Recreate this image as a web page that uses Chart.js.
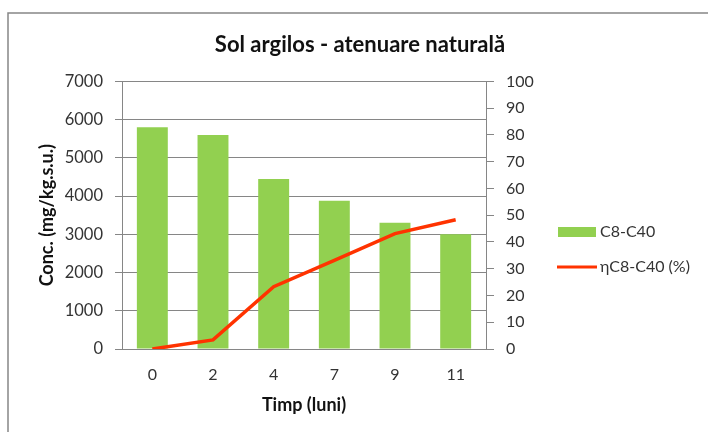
<!DOCTYPE html>
<html>
<head>
<meta charset="utf-8">
<script src="https://cdn.jsdelivr.net/npm/chart.js@4/dist/chart.umd.min.js"></script>
<style>
	body { margin: 0; background: #fff; }
	canvas { display: block; }
</style>
</head>
<body>
<canvas id="solArgilos" width="708" height="432"></canvas>
<script>
// date
let luni = ['0', '2', '4', '7', '9', '11'];
let concentratie = [5800, 5600, 4450, 3880, 3300, 3000];
let eficienta = [0, 3.4, 23.3, 33.1, 43.1, 48.3];

let verde = '#92d050',
	rosu = '#ff3300',
	gri = '#868686';

Chart.defaults.font.family = 'Lato';
Chart.defaults.color = '#333333';

// rama graficului + legenda desenata de mana
let ramaSiLegenda = {
	id : 'ramaSiLegenda',
	beforeDraw : function(chart) {
		let c = chart.ctx;
		c.save();
		c.fillStyle = '#fff';
		c.fillRect(0, 0, chart.width, chart.height);
		c.strokeStyle = gri;
		c.lineWidth = 1.5;
		c.strokeRect(8, 13, 740, 460);
		c.restore();
	},
	afterDraw : function(chart) {
		let c = chart.ctx;
		let x = chart.chartArea.right + 72;
		c.save();
		c.font = '16px Lato';
		c.textBaseline = 'middle';
		chart.data.datasets.forEach(function(ds, i) {
			let y = 232 + i * 35;
			if (ds.type === 'line') {
				c.strokeStyle = ds.borderColor;
				c.lineWidth = 3;
				c.beginPath();
				c.moveTo(x - 1, y);
				c.lineTo(x + 39, y);
				c.stroke();
			} else {
				c.fillStyle = ds.backgroundColor;
				c.fillRect(x, y - 5, 38, 10);
			}
			c.fillStyle = '#333333';
			c.fillText(ds.label, x + 42, y);
		});
		c.restore();
	}
};

let grafic = new Chart(document.getElementById('solArgilos').getContext('2d'), {
	data : {
		labels   : luni,
		datasets : [
			{
				type            : 'bar',
				label           : 'C8-C40',
				data            : concentratie,
				backgroundColor : verde,
				yAxisID         : 'y',
				barPercentage   : 0.51,
				categoryPercentage : 1,
				order           : 2
			},
			{
				type            : 'line',
				label           : 'ηC8-C40 (%)',
				data            : eficienta,
				borderColor     : rosu,
				backgroundColor : rosu,
				borderWidth     : 3.5,
				pointRadius     : 0,
				tension         : 0,
				yAxisID         : 'y1',
				order           : 1
			}
		]
	},
	options : {
		responsive : false,
		animation  : false,
		layout     : { padding : { left : 12, right : 0, top : 0, bottom : 0 } },
		plugins    : {
			legend  : { display : false },
			tooltip : { enabled : false },
			title   : {
				display : true,
				text    : 'Sol argilos - atenuare naturală',
				color   : '#111111',
				font    : { size : 22, weight : 'bold' },
				padding : { top : 32, bottom : 23 }
			}
		},
		scales : {
			x : {
				grid   : { display : false, drawTicks : false },
				border : { display : true, color : gri },
				ticks  : { padding : 16, font : { size : 16 } },
				title  : {
					display : true,
					text    : 'Timp (luni)',
					color   : '#111111',
					font    : { size : 18, weight : 'bold' },
					padding : { top : 0, bottom : 16 }
				},
				afterFit : function(s) { s.height = 83; }
			},
			y : {
				position : 'left',
				min      : 0,
				max      : 7000,
				grid     : { color : gri, tickLength : 7 },
				border   : { display : true, color : gri },
				ticks    : {
					stepSize : 1000,
					padding  : 12,
					font     : { size : 16.5 },
					callback : function(v) { return v; }
				},
				title    : {
					display : true,
					text    : 'Conc. (mg/kg.s.u.)',
					color   : '#111111',
					font    : { size : 18, weight : 'bold' },
					padding : { top : 24, bottom : 0 }
				},
				afterFit : function(s) { s.width = 110; }
			},
			y1 : {
				position : 'right',
				min      : 0,
				max      : 100,
				grid     : { drawOnChartArea : false, color : gri, tickLength : 8 },
				border   : { display : true, color : gri },
				ticks    : { stepSize : 10, padding : 12, font : { size : 16 } },
				afterFit : function(s) { s.width = 222; }
			}
		}
	},
	plugins : [ramaSiLegenda]
});
</script>
</body>
</html>
